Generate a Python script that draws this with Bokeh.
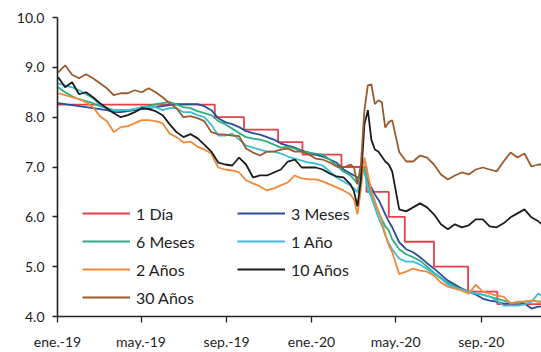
import pandas as pd
from bokeh.plotting import figure
from bokeh.models import Range1d, FixedTicker, Legend, LegendItem, NumeralTickFormatter
from bokeh.embed import file_html
from bokeh.resources import INLINE

# ---------------- data ----------------
dates = (list(pd.date_range("2019-01-02", "2020-02-26", freq="10D"))
         + list(pd.date_range("2020-03-02", "2020-04-26", freq="5D"))
         + list(pd.date_range("2020-05-06", "2020-12-02", freq="10D")))

rate_dates = ["2019-01-01", "2019-08-15", "2019-09-26", "2019-11-14", "2019-12-19",
              "2020-02-13", "2020-03-20", "2020-04-21", "2020-05-14", "2020-06-25",
              "2020-08-13", "2020-09-24", "2020-12-02"]
rate_1d = [8.25, 8.00, 7.75, 7.50, 7.25, 7.00, 6.50, 6.00, 5.50, 5.00, 4.50, 4.25, 4.25]

y_3m = [8.28, 8.26, 8.24, 8.22, 8.20, 8.18, 8.16, 8.14, 8.10, 8.10,
        8.12, 8.14, 8.16, 8.18, 8.20, 8.22, 8.24, 8.26, 8.26, 8.26,
        8.26, 8.22, 8.14, 7.98, 7.90, 7.86, 7.80, 7.72, 7.68, 7.65,
        7.60, 7.55, 7.47, 7.43, 7.39, 7.33, 7.29, 7.25, 7.21, 7.15,
        7.09, 6.95, 6.87, 6.83, 6.79, 6.79, 6.95, 6.71, 6.59, 6.45,
        6.35, 6.21, 6.05, 5.91, 5.79, 5.49, 5.35, 5.29, 5.19, 5.07,
        4.96, 4.84, 4.72, 4.64, 4.56, 4.50, 4.44, 4.36, 4.32, 4.30,
        4.26, 4.26, 4.26, 4.26, 4.16, 4.20, 4.20]

y_6m = [8.60, 8.50, 8.42, 8.36, 8.32, 8.28, 8.22, 8.18, 8.14, 8.14,
        8.14, 8.16, 8.20, 8.22, 8.26, 8.28, 8.30, 8.26, 8.20, 8.18,
        8.12, 8.08, 8.04, 7.92, 7.86, 7.77, 7.68, 7.60, 7.57, 7.55,
        7.51, 7.45, 7.39, 7.41, 7.37, 7.31, 7.29, 7.27, 7.25, 7.15,
        7.03, 6.91, 6.83, 6.75, 6.67, 6.91, 6.99, 6.65, 6.47, 6.29,
        6.11, 5.95, 5.81, 5.73, 5.55, 5.35, 5.25, 5.19, 5.12, 5.00,
        4.88, 4.78, 4.68, 4.60, 4.54, 4.50, 4.46, 4.44, 4.40, 4.36,
        4.32, 4.28, 4.26, 4.30, 4.32, 4.30, 4.30]

y_1y = [8.68, 8.64, 8.60, 8.54, 8.46, 8.38, 8.24, 8.18, 8.14, 8.14,
        8.14, 8.16, 8.20, 8.20, 8.20, 8.14, 8.18, 8.18, 8.10, 8.10,
        8.04, 8.00, 7.85, 7.63, 7.63, 7.67, 7.55, 7.43, 7.39, 7.35,
        7.31, 7.31, 7.27, 7.21, 7.17, 7.13, 7.09, 7.07, 7.03, 6.91,
        6.79, 6.71, 6.63, 6.57, 6.49, 6.83, 6.91, 6.55, 6.39, 6.19,
        5.99, 5.83, 5.63, 5.47, 5.35, 5.16, 5.10, 5.10, 5.04, 4.96,
        4.86, 4.76, 4.64, 4.58, 4.54, 4.50, 4.46, 4.44, 4.40, 4.32,
        4.22, 4.22, 4.22, 4.24, 4.30, 4.46, 4.36]

y_2y = [8.48, 8.44, 8.40, 8.36, 8.30, 8.20, 8.02, 7.92, 7.70, 7.80,
        7.82, 7.88, 7.94, 7.94, 7.92, 7.88, 7.67, 7.60, 7.49, 7.51,
        7.41, 7.35, 7.27, 6.99, 6.95, 6.93, 6.89, 6.73, 6.67, 6.61,
        6.53, 6.57, 6.63, 6.69, 6.83, 6.77, 6.75, 6.75, 6.71, 6.65,
        6.59, 6.53, 6.45, 6.35, 6.05, 6.55, 7.19, 6.85, 6.51, 6.31,
        6.11, 5.91, 5.65, 5.43, 5.29, 4.85, 4.90, 4.96, 4.92, 4.90,
        4.82, 4.68, 4.60, 4.56, 4.52, 4.46, 4.64, 4.50, 4.46, 4.42,
        4.40, 4.26, 4.30, 4.30, 4.32, 4.30, 4.30]

y_10y = [8.80, 8.60, 8.70, 8.46, 8.50, 8.40, 8.28, 8.18, 8.08, 8.00,
         8.04, 8.10, 8.18, 8.16, 8.12, 8.04, 7.86, 7.70, 7.60, 7.66,
         7.58, 7.45, 7.31, 7.09, 7.05, 7.03, 7.19, 7.05, 6.79, 6.83,
         6.83, 6.89, 6.95, 7.11, 7.15, 6.99, 6.99, 6.99, 6.95, 6.87,
         6.81, 6.79, 6.65, 6.51, 6.21, 6.75, 7.85, 8.14, 7.55, 7.35,
         7.31, 7.21, 7.11, 7.05, 6.91, 6.15, 6.11, 6.19, 6.27, 6.19,
         6.05, 5.85, 5.75, 5.85, 5.79, 5.83, 5.95, 5.95, 5.81, 5.79,
         5.87, 5.99, 6.07, 6.15, 5.99, 5.91, 5.79]

y_30y = [8.90, 9.04, 8.85, 8.78, 8.86, 8.78, 8.68, 8.58, 8.44, 8.48,
         8.48, 8.54, 8.50, 8.58, 8.50, 8.40, 8.28, 8.18, 8.00, 8.02,
         7.98, 7.92, 7.70, 7.66, 7.65, 7.63, 7.62, 7.37, 7.29, 7.23,
         7.31, 7.31, 7.35, 7.37, 7.31, 7.31, 7.25, 7.17, 7.15, 7.09,
         7.01, 6.99, 7.05, 6.99, 6.65, 7.05, 8.14, 8.64, 8.66, 8.26,
         8.34, 8.30, 7.79, 7.90, 7.94, 7.30, 7.11, 7.11, 7.23, 7.19,
         7.05, 6.85, 6.75, 6.83, 6.89, 6.85, 6.95, 6.99, 6.95, 6.91,
         7.11, 7.29, 7.19, 7.27, 7.01, 7.05, 7.05]

tick_dates = ["2019-01-01", "2019-05-01", "2019-09-01", "2020-01-01", "2020-05-01", "2020-09-01"]
tick_labels = ["ene.-19", "may.-19", "sep.-19", "ene.-20", "may.-20", "sep.-20"]
y_ticks = [4, 5, 6, 7, 8, 9, 10]

series_names = ["1 Día", "3 Meses", "6 Meses", "1 Año", "2 Años", "10 Años", "30 Años"]
colors = ["#e3404a", "#2d4c9c", "#2bae7e", "#3bbfd6", "#f08a3a", "#1c1c1c", "#9a5a2c"]

# ---------------- helpers ----------------
origin = pd.Timestamp("2019-01-01")


def to_days(ds):
    return [(pd.Timestamp(d) - origin).days for d in ds]


x_grid = to_days(dates)
x_rate = to_days(rate_dates)
x_ticks = to_days(tick_dates)

FONT = "Lato"
TXT = "#1e1e1e"

p = figure(width=541, height=352, output_backend="svg", toolbar_location=None,
           x_range=Range1d(0, 695.5), y_range=Range1d(4, 10),
           min_border_left=57, min_border_right=0, min_border_top=17, min_border_bottom=34)
p.xgrid.visible = False
p.ygrid.visible = False
p.outline_line_color = None
p.background_fill_color = "white"
p.border_fill_color = "white"

LW = 1.8
r_1d = p.step(x_rate, rate_1d, mode="after", line_color=colors[0], line_width=LW)
r_3m = p.line(x_grid, y_3m, line_color=colors[1], line_width=LW)
r_6m = p.line(x_grid, y_6m, line_color=colors[2], line_width=LW)
r_1y = p.line(x_grid, y_1y, line_color=colors[3], line_width=LW)
r_2y = p.line(x_grid, y_2y, line_color=colors[4], line_width=LW)
r_10y = p.line(x_grid, y_10y, line_color=colors[5], line_width=LW)
r_30y = p.line(x_grid, y_30y, line_color=colors[6], line_width=LW)

# axes
for ax in (p.xaxis[0], p.yaxis[0]):
    ax.axis_line_color = "#222222"
    ax.axis_line_width = 1.6
    ax.major_tick_line_color = "#222222"
    ax.major_tick_line_width = 1.3
    ax.major_tick_in = 0
    ax.minor_tick_line_color = None
    ax.major_label_text_font = FONT
    ax.major_label_text_font_size = "14px"
    ax.major_label_text_color = TXT

p.yaxis[0].ticker = FixedTicker(ticks=y_ticks)
p.yaxis[0].formatter = NumeralTickFormatter(format="0.0")
p.yaxis[0].major_tick_out = 5
p.yaxis[0].major_label_standoff = 8

p.xaxis[0].ticker = FixedTicker(ticks=x_ticks)
p.xaxis[0].major_label_overrides = {d: l for d, l in zip(x_ticks, tick_labels)}
p.xaxis[0].major_tick_out = 6
p.xaxis[0].major_label_standoff = 10

# legends (two columns)
renderers = [r_1d, r_3m, r_6m, r_1y, r_2y, r_10y, r_30y]
col1 = [0, 2, 4, 6]
col2 = [1, 3, 5]


def make_legend(idx, loc):
    lg = Legend(items=[LegendItem(label=series_names[i], renderers=[renderers[i]]) for i in idx],
                location=loc, orientation="vertical",
                padding=0, margin=0, spacing=8,
                glyph_width=48, glyph_height=20, label_height=20, label_standoff=6,
                label_text_font=FONT, label_text_font_size="16px", label_text_color=TXT,
                border_line_alpha=0, background_fill_alpha=0)
    return lg


p.add_layout(make_legend(col1, (25, 9)), "center")
p.add_layout(make_legend(col2, (180, 37)), "center")

open("out.html", "w").write(file_html(p, INLINE))
